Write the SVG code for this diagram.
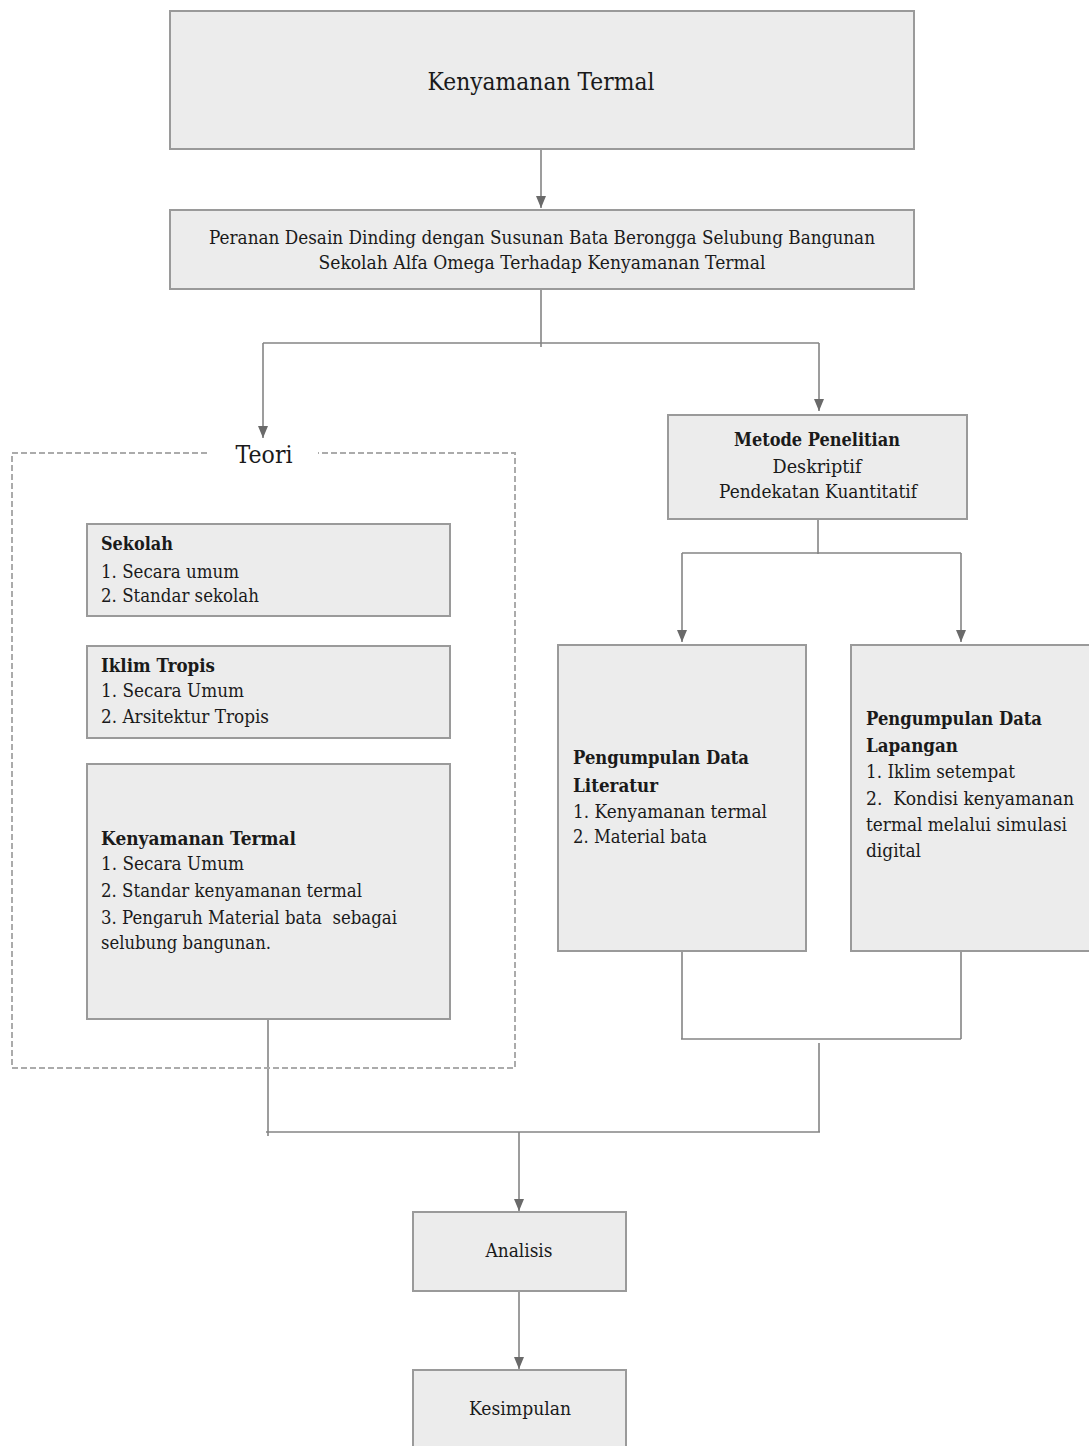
<svg xmlns="http://www.w3.org/2000/svg" width="1089" height="1446" viewBox="0 0 1089 1446">
<style>
.box{fill:#ececec;stroke:#9a9a9a;stroke-width:2}
.t{font-family:"DejaVu Serif","Liberation Serif",serif;font-size:18px;fill:#1a1a1a}
.b{font-weight:bold}
.c{text-anchor:middle}
.ln{fill:none;stroke:#858585;stroke-width:1.6}
.dash{fill:none;stroke:#ababab;stroke-width:2;stroke-dasharray:6,3}
</style>
<defs>
<marker id="ad" markerUnits="userSpaceOnUse" markerWidth="10" markerHeight="12" refX="5" refY="12" orient="0" viewBox="0 0 10 12">
<path d="M0,0 L10,0 L5,12 Z" fill="#6a6a6a"/>
</marker>
</defs>

<g id="connectors">
<path class="ln" d="M541,149 V208" marker-end="url(#ad)"/>
<path class="ln" d="M541,289 V347"/>
<path class="ln" d="M263,343 H819"/>
<path class="ln" d="M263,343 V438" marker-end="url(#ad)"/>
<path class="ln" d="M819,343 V411" marker-end="url(#ad)"/>
<path class="ln" d="M818,519 V554"/>
<path class="ln" d="M682,553 H961"/>
<path class="ln" d="M682,553 V642" marker-end="url(#ad)"/>
<path class="ln" d="M961,553 V642" marker-end="url(#ad)"/>
<path class="ln" d="M682,951 V1039"/>
<path class="ln" d="M961,951 V1039"/>
<path class="ln" d="M681,1039 H961"/>
<path class="ln" d="M819,1043 V1132"/>
<path class="ln" d="M268,1019 V1136"/>
<path class="ln" d="M266,1132 H820"/>
<path class="ln" d="M519,1132 V1211" marker-end="url(#ad)"/>
<path class="ln" d="M519,1291 V1369" marker-end="url(#ad)"/>
</g>

<g id="teori-group">
<path class="dash" d="M207,453 H12 V1068 H515 V453 H318"/>
<text class="t c" x="264" y="463" style="font-size:25px" textLength="57" lengthAdjust="spacingAndGlyphs">Teori</text>
</g>

<g id="node-kenyamanan">
<rect class="box" x="170" y="11" width="744" height="138"/>
<text class="t c" x="541" y="90" style="font-size:25px" textLength="227" lengthAdjust="spacingAndGlyphs">Kenyamanan Termal</text>
</g>

<g id="node-peranan">
<rect class="box" x="170" y="210" width="744" height="79"/>
<text class="t c" x="542" y="244" textLength="666" lengthAdjust="spacingAndGlyphs">Peranan Desain Dinding dengan Susunan Bata Berongga Selubung Bangunan</text>
<text class="t c" x="542" y="269" textLength="447" lengthAdjust="spacingAndGlyphs">Sekolah Alfa Omega Terhadap Kenyamanan Termal</text>
</g>

<g id="node-sekolah">
<rect class="box" x="87" y="524" width="363" height="92"/>
<text class="t b" x="101" y="550" textLength="72" lengthAdjust="spacingAndGlyphs">Sekolah</text>
<text class="t" x="101" y="578" textLength="138" lengthAdjust="spacingAndGlyphs">1. Secara umum</text>
<text class="t" x="101" y="602" textLength="158" lengthAdjust="spacingAndGlyphs">2. Standar sekolah</text>
</g>

<g id="node-iklim">
<rect class="box" x="87" y="646" width="363" height="92"/>
<text class="t b" x="101" y="672" textLength="114" lengthAdjust="spacingAndGlyphs">Iklim Tropis</text>
<text class="t" x="101" y="697" textLength="143" lengthAdjust="spacingAndGlyphs">1. Secara Umum</text>
<text class="t" x="101" y="723" textLength="168" lengthAdjust="spacingAndGlyphs">2. Arsitektur Tropis</text>
</g>

<g id="node-kenyamanan-teori">
<rect class="box" x="87" y="764" width="363" height="255"/>
<text class="t b" x="101" y="845" textLength="195" lengthAdjust="spacingAndGlyphs">Kenyamanan Termal</text>
<text class="t" x="101" y="870" textLength="143" lengthAdjust="spacingAndGlyphs">1. Secara Umum</text>
<text class="t" x="101" y="897" textLength="261" lengthAdjust="spacingAndGlyphs">2. Standar kenyamanan termal</text>
<text class="t" x="101" y="924" textLength="296" lengthAdjust="spacingAndGlyphs" xml:space="preserve">3. Pengaruh Material bata  sebagai</text>
<text class="t" x="101" y="949" textLength="170" lengthAdjust="spacingAndGlyphs">selubung bangunan.</text>
</g>

<g id="node-metode">
<rect class="box" x="668" y="415" width="299" height="104"/>
<text class="t b c" x="817" y="446" textLength="166" lengthAdjust="spacingAndGlyphs">Metode Penelitian</text>
<text class="t c" x="817" y="473" textLength="89" lengthAdjust="spacingAndGlyphs">Deskriptif</text>
<text class="t c" x="818" y="498" textLength="198" lengthAdjust="spacingAndGlyphs">Pendekatan Kuantitatif</text>
</g>

<g id="node-literatur">
<rect class="box" x="558" y="645" width="248" height="306"/>
<text class="t b" x="573" y="764" textLength="176" lengthAdjust="spacingAndGlyphs">Pengumpulan Data</text>
<text class="t b" x="573" y="792" textLength="85" lengthAdjust="spacingAndGlyphs">Literatur</text>
<text class="t" x="573" y="818" textLength="194" lengthAdjust="spacingAndGlyphs">1. Kenyamanan termal</text>
<text class="t" x="573" y="843" textLength="134" lengthAdjust="spacingAndGlyphs">2. Material bata</text>
</g>

<g id="node-lapangan">
<rect class="box" x="851" y="645" width="250" height="306"/>
<text class="t b" x="866" y="725" textLength="176" lengthAdjust="spacingAndGlyphs">Pengumpulan Data</text>
<text class="t b" x="866" y="752" textLength="92" lengthAdjust="spacingAndGlyphs">Lapangan</text>
<text class="t" x="866" y="778" textLength="149" lengthAdjust="spacingAndGlyphs">1. Iklim setempat</text>
<text class="t" x="866" y="805" textLength="208" lengthAdjust="spacingAndGlyphs" xml:space="preserve">2.  Kondisi kenyamanan</text>
<text class="t" x="866" y="831" textLength="201" lengthAdjust="spacingAndGlyphs">termal melalui simulasi</text>
<text class="t" x="866" y="857" textLength="55" lengthAdjust="spacingAndGlyphs">digital</text>
</g>

<g id="node-analisis">
<rect class="box" x="413" y="1212" width="213" height="79"/>
<text class="t c" x="519" y="1257" textLength="67" lengthAdjust="spacingAndGlyphs">Analisis</text>
</g>

<g id="node-kesimpulan">
<rect class="box" x="413" y="1370" width="213" height="90"/>
<text class="t c" x="520" y="1415" textLength="102" lengthAdjust="spacingAndGlyphs">Kesimpulan</text>
</g>
</svg>
